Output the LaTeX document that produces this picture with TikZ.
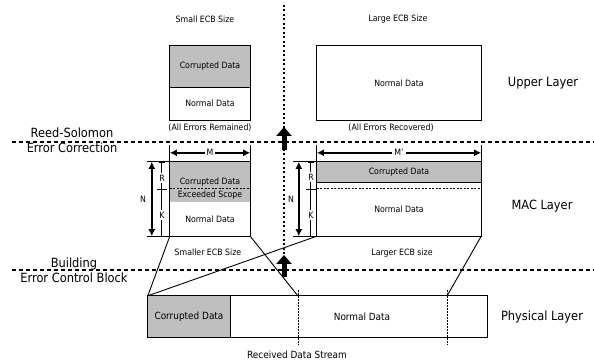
\documentclass[tikz,border=0pt]{standalone}
\usepackage{fontspec}
\setmainfont{DejaVu Sans Condensed}
\usetikzlibrary{arrows.meta}

\begin{document}
\begin{tikzpicture}[x=1pt, y=-1pt,
  >={Latex[length=7pt,width=7pt]},
  every node/.style={inner sep=0pt},
  small/.style={font=\fontsize{8.7}{10}\selectfont},
  big/.style={font=\fontsize{12.7}{15}\selectfont, align=center},
  phys/.style={font=\fontsize{9.9}{12}\selectfont},
  databox/.style={small, minimum width=80pt},
  errbox/.style={databox, fill=gray!50},
  boxline/.style={line width=1.2pt},
  splitline/.style={line width=0.6pt, dash pattern=on 2pt off 1.5pt},
  dimline/.style={<->, line width=1.8pt},
  extline/.style={line width=1pt},
  tickline/.style={line width=0.7pt},
  layerline/.style={line width=1.3pt, dash pattern=on 4pt off 3pt},
  midline/.style={line width=2pt, dash pattern=on 2pt off 2.5pt},
  cutline/.style={line width=0.9pt, dash pattern=on 1.5pt off 1.5pt},
  lift/.style={-{Triangle[width=15pt,length=9pt]}, line width=5pt},
  proj/.style={line width=0.9pt}
]
  \useasboundingbox (0,0) rectangle (594,363);

  \coordinate (axtop) at (284,5);
  \coordinate (axbot) at (284,257);
  \coordinate (rsW) at (12,142);
  \coordinate (rsE) at (594,142);
  \coordinate (ecbW) at (12,270);
  \coordinate (ecbE) at (594,270);
  \coordinate (rsfrom) at (284,150);
  \coordinate (rsto) at (284,127);
  \coordinate (ecbfrom) at (284,277);
  \coordinate (ecbto) at (284,255);
  \coordinate (cutA) at (298,296);
  \coordinate (cutB) at (447,296);

  \node[small] (smallhead) at (205,19) {Small ECB Size};
  \node[small] (largehead) at (398,19) {Large ECB Size};

  \node[errbox, minimum height=41pt] (upcor) at (210,66.5) {Corrupted Data};
  \node[databox, minimum height=33pt] (upnorm) at (210,103.5) {Normal Data};
  \node[databox, minimum width=164pt, minimum height=74pt] (upbig) at (399,83) {Normal Data};
  \node[small] (remained) at (210,128) {(All Errors Remained)};
  \node[small] (recovered) at (391,128) {(All Errors Recovered)};

  \node[errbox, minimum height=26pt] (macLcor) at (210,175) {};
  \node[errbox, minimum height=14pt] (macLexc) at (210,195) {Exceeded Scope};
  \node[databox, minimum height=34pt] (macLnorm) at (210,219) {Normal Data};
  \node[small] (macLcortxt) at (210,182) {Corrupted Data};
  \node[errbox, minimum width=164pt, minimum height=20pt] (macRcor) at (399,172) {Corrupted Data};
  \node[databox, minimum width=164pt, minimum height=54pt] (macRnorm) at (399,209) {Normal Data};
  \node[small] (smallerecb) at (208,252) {Smaller ECB Size};
  \node[small] (largerecb) at (402,253) {Larger ECB size};

  \node[errbox, phys, minimum width=82pt, minimum height=41pt] (physcor) at (189,316.5) {Corrupted Data};
  \node[phys, minimum width=257pt, minimum height=41pt] (physnorm) at (358.5,316.5) {\hspace*{7pt}Normal Data};
  \node[phys] (stream) at (297,355) {Received Data Stream};

  \node[big] (upper) at (543,83) {Upper Layer};
  \node[big] (mac) at (542,206) {MAC Layer};
  \node[big] (physical) at (542,317) {Physical Layer};
  \node[big] (rs) at (72,140.5) {Reed-Solomon\\Error Correction};
  \node[big] (ecb) at (74,270) {Building\\Error Control Block};

  \draw[boxline] (upcor.north west) rectangle (upnorm.south east);
  \draw[boxline] (upcor.south west) -- (upcor.south east);
  \draw[boxline] (upbig.north west) rectangle (upbig.south east);

  \draw[boxline] (macLcor.north west) rectangle (macLnorm.south east);
  \draw[splitline] (macLcor.south west) -- (macLcor.south east);
  \draw[boxline] (macRcor.north west) rectangle (macRnorm.south east);
  \draw[tickline] (macRcor.south west) -- (macRcor.south east);
  \draw[splitline] ([yshift=-6pt]macRcor.south west) -- ([yshift=-6pt]macRcor.south east);

  \draw[boxline] (physcor.north west) rectangle (physnorm.south east);
  \draw[boxline] (physcor.north east) -- (physcor.south east);
  \draw[cutline] ([yshift=6pt]cutA) -- ([yshift=-49pt]cutA);
  \draw[cutline] ([yshift=6pt]cutB) -- ([yshift=-49pt]cutB);

  \draw[extline] (macLcor.north west) -- ++(0,-17);
  \draw[extline] (macLcor.north east) -- ++(0,-17);
  \draw[dimline] ([yshift=9pt]macLcor.north west) -- node[small, fill=white, inner xsep=2pt]{M} ([yshift=9pt]macLcor.north east);
  \draw[extline] (macLcor.north west) -- ++(-23,0);
  \draw[extline] (macLnorm.south west) -- ++(-23,0);
  \draw[dimline] ([xshift=-18pt]macLcor.north west) -- node[small, left=5pt]{N} ([xshift=-18pt]macLnorm.south west);
  \draw[tickline] ([xshift=-8pt]macLcor.north west) -- ([xshift=-8pt]macLnorm.south west);
  \draw[tickline] ([xshift=-11pt,yshift=-1pt]macLcor.north west) -- ++(6,0);
  \draw[tickline] ([xshift=-13pt,yshift=-1pt]macLcor.south west) -- ++(10,0);
  \node[small, fill=white, inner ysep=1.5pt] (rL) at (162,178) {R};
  \node[small, fill=white, inner ysep=1.5pt] (kL) at (162,215) {K};

  \draw[extline] (macRcor.north west) -- ++(0,-17);
  \draw[extline] (macRcor.north east) -- ++(0,-17);
  \draw[dimline] ([yshift=9pt]macRcor.north west) -- node[small, fill=white, inner xsep=2pt]{M'} ([yshift=9pt]macRcor.north east);
  \draw[extline] (macRcor.north west) -- ++(-24,0);
  \draw[extline] (macRnorm.south west) -- ++(-24,0);
  \draw[dimline] ([xshift=-18pt]macRcor.north west) -- node[small, left=4pt]{N} ([xshift=-18pt]macRnorm.south west);
  \draw[tickline] ([xshift=-6pt]macRcor.north west) -- ([xshift=-6pt]macRnorm.south west);
  \draw[tickline] ([xshift=-9pt,yshift=-1pt]macRcor.north west) -- ++(6,0);
  \draw[tickline] ([xshift=-11pt,yshift=-7pt]macRcor.south west) -- ++(10,0);
  \node[small, fill=white, inner ysep=1.5pt] (rR) at (311,177) {R};
  \node[small, fill=white, inner ysep=1.5pt] (kR) at (311,215) {K};

  \draw[layerline] (rsW) -- (rsE);
  \draw[layerline] (ecbW) -- (ecbE);
  \draw[midline] (axtop) -- (axbot);

  \draw[proj] (macLnorm.south west) -- (physcor.north west);
  \draw[proj] (macLnorm.south east) -- (cutA);
  \draw[proj] (macRnorm.south west) -- (physcor.north west);
  \draw[proj] (macRnorm.south east) -- (cutB);

  \draw[lift] (rsfrom) -- (rsto);
  \draw[lift] (ecbfrom) -- (ecbto);
\end{tikzpicture}
\end{document}
